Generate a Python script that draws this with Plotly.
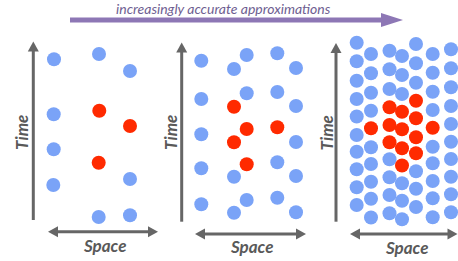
import plotly.graph_objects as go

# ---------------- data (space, time positions) ----------------
p1_blue_space = [54, 99, 130, 53.7, 53.7, 53.3, 130, 98.7, 130]
p1_blue_time = [59.3, 54, 71, 114.3, 149.3, 185, 179, 217, 215.3]
p1_red_space = [99.3, 130, 98.7]
p1_red_time = [110.7, 126, 162.7]

p2_blue_space = [201.3] * 5 + [234] * 3 + [246.7] * 3 + [277.3] * 4 + [296] * 5
p2_blue_time = [60.7, 99, 134.3, 168.3, 204.3,
                69, 176.7, 212.7,
                55, 93.3, 200,
                53.3, 92, 162.3, 197.7,
                68, 106, 142, 176, 212.3]
p2_red_space = [234, 234, 246.7, 246.7, 277.3]
p2_red_time = [106.7, 142.3, 129, 164.3, 127.3]

p3_blue_space = ([356.7] * 10 + [371] * 9 + [389.5] * 7 + [402] * 6 +
                 [416] * 6 + [432.7] * 9 + [451] * 10)
p3_blue_time = [42.7, 61.3, 80.7, 99, 116.5, 135, 151.7, 169.3, 187.3, 205,
                54, 73.3, 92.7, 110.7, 147.3, 164, 181.7, 198.7, 217.5,
                50.7, 69.3, 89, 159.3, 177.3, 195, 213.3,
                56, 75, 94, 183.3, 200.7, 219.3,
                44, 63.3, 82.7, 171.3, 188.7, 207,
                54, 72.7, 91.7, 110, 146.7, 163.3, 181, 198.3, 217.3,
                49.3, 68.3, 87.3, 106, 124, 141.7, 159, 176.7, 194.3, 212.3]
p3_red_space = [371] + [389.5] * 3 + [402] * 4 + [416] * 4 + [432.7]
p3_red_time = [128.3,
               107.3, 125, 142.3,
               111.7, 129.3, 148.3, 165.5,
               100.7, 118.3, 137.3, 153.3,
               127.8]

title_text = "increasingly accurate approximations"
axis_time = "Time"
axis_space = "Space"

BLUE = "#7aa3f7"
RED = "#ff2a00"
GRAY = "#666666"
LABEL = "#595959"
PURPLE = "#8d77b5"
PURPLE_TXT = "#6e5e91"

fig = go.Figure()
for bx, by, rx, ry in [(p1_blue_space, p1_blue_time, p1_red_space, p1_red_time),
                       (p2_blue_space, p2_blue_time, p2_red_space, p2_red_time),
                       (p3_blue_space, p3_blue_time, p3_red_space, p3_red_time)]:
    fig.add_trace(go.Scatter(x=bx, y=by, mode="markers",
                             marker=dict(size=14, color=BLUE, line=dict(width=0)),
                             hoverinfo="skip", showlegend=False))
    fig.add_trace(go.Scatter(x=rx, y=ry, mode="markers",
                             marker=dict(size=14, color=RED, line=dict(width=0)),
                             hoverinfo="skip", showlegend=False))

shapes = []


def head(tipx, tipy, dx, dy, length, half, color):
    bx, by = tipx - dx * length, tipy - dy * length
    px, py = -dy, dx
    return dict(type="path", xref="x", yref="y",
                path=f"M{tipx},{tipy} L{bx + px * half},{by + py * half} "
                     f"L{bx - px * half},{by - py * half} Z",
                fillcolor=color, line=dict(width=0))


def arrow(x0, y0, x1, y1, color, width, hl, hw, both=False):
    dx, dy = x1 - x0, y1 - y0
    n = (dx * dx + dy * dy) ** 0.5
    dx, dy = dx / n, dy / n
    sx0 = x0 + dx * (hl - 1) if both else x0
    sy0 = y0 + dy * (hl - 1) if both else y0
    shapes.append(dict(type="line", xref="x", yref="y",
                       x0=sx0, y0=sy0, x1=x1 - dx * (hl - 1), y1=y1 - dy * (hl - 1),
                       line=dict(color=color, width=width)))
    shapes.append(head(x1, y1, dx, dy, hl, hw / 2, color))
    if both:
        shapes.append(head(x0, y0, -dx, -dy, hl, hw / 2, color))


# vertical time arrows
arrow(33.3, 220, 33.3, 41.5, GRAY, 3, 10, 11)
arrow(181.7, 221.7, 181.7, 42.5, GRAY, 3, 10, 11)
arrow(336, 221.7, 336, 43, GRAY, 3, 10, 11)
# horizontal space arrows
arrow(48, 231.7, 158, 231.7, GRAY, 3, 10, 11, both=True)
arrow(195, 234, 306, 234, GRAY, 3, 10, 11, both=True)
arrow(350, 234, 457.5, 234, GRAY, 3, 10, 11, both=True)
# top purple arrow
arrow(70, 20, 403, 20, PURPLE, 5, 22, 14)

annotations = []
for x, y in [(21, 133), (170, 133), (325.5, 133)]:
    annotations.append(dict(x=x, y=y, xref="x", yref="y", text=axis_time, showarrow=False,
                            textangle=-90,
                            font=dict(family="Lato", size=17, color=LABEL,
                                      style="italic", weight="bold")))
for x, y in [(104.5, 245.5), (251.7, 246.5), (406.7, 247.5)]:
    annotations.append(dict(x=x, y=y, xref="x", yref="y", text=axis_space, showarrow=False,
                            font=dict(family="Lato", size=17, color=LABEL,
                                      style="italic", weight="bold")))
annotations.append(dict(x=223, y=8.5, xref="x", yref="y", text=title_text, showarrow=False,
                        font=dict(family="Lato", size=14, color=PURPLE_TXT, style="italic")))

fig.update_layout(
    width=458, height=261,
    margin=dict(l=0, r=0, t=0, b=0),
    paper_bgcolor="white", plot_bgcolor="white",
    xaxis=dict(range=[0, 458], visible=False, fixedrange=True),
    yaxis=dict(range=[261, 0], visible=False, fixedrange=True),
    shapes=shapes, annotations=annotations,
)

fig.write_html("out.html", config=dict(displayModeBar=False, staticPlot=True),
               post_script="document.body.style.margin='0';"
                           "document.body.style.overflow='hidden';")
